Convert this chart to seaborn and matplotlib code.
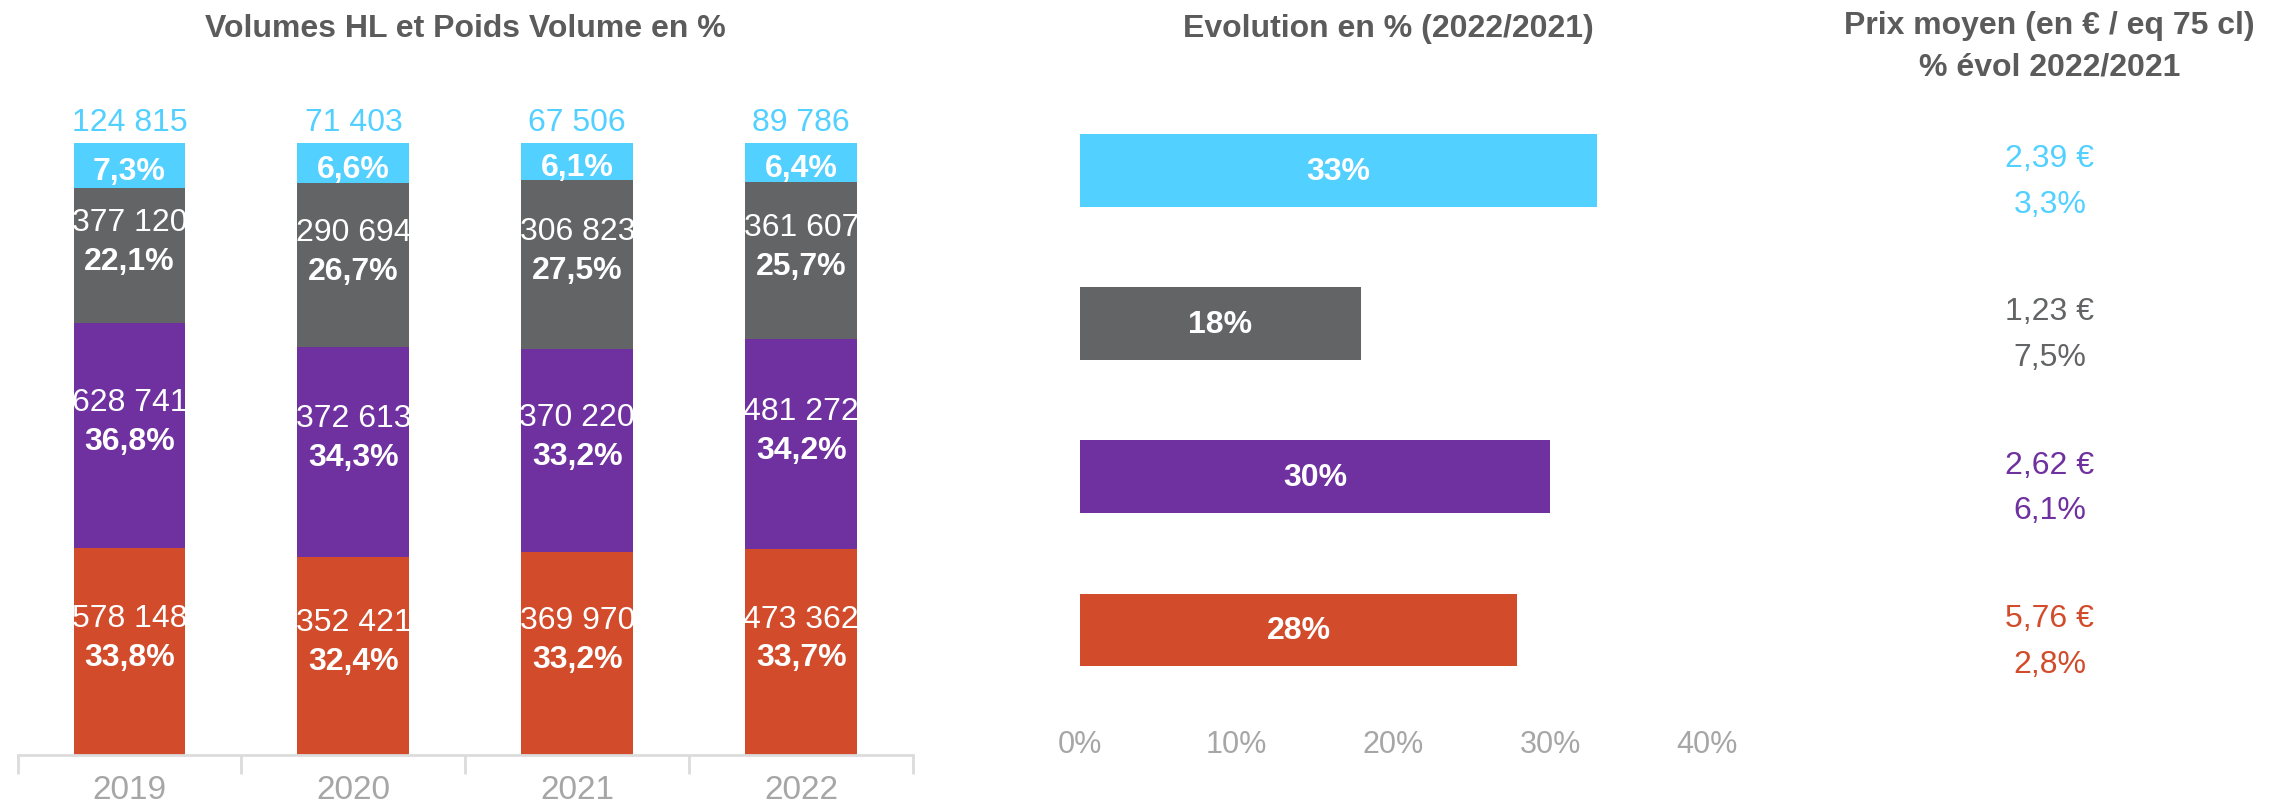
import numpy as np
import pandas as pd
import seaborn as sns
import matplotlib.pyplot as plt
import matplotlib.transforms as mtransforms

# --- data ---
years = ['2019', '2020', '2021', '2022']
seg_names = ['orange', 'violet', 'gris', 'bleu']          # bottom -> top of the stack
seg_colors = ['#D24B2A', '#6F30A0', '#636466', '#52D0FF']

vol_orange = [578148, 352421, 369970, 473362]
vol_violet = [628741, 372613, 370220, 481272]
vol_gris = [377120, 290694, 306823, 361607]
vol_bleu = [124815, 71403, 67506, 89786]

pct_orange = [33.8, 32.4, 33.2, 33.7]
pct_violet = [36.8, 34.3, 33.2, 34.2]
pct_gris = [22.1, 26.7, 27.5, 25.7]
pct_bleu = [7.3, 6.6, 6.1, 6.4]

# evolution 2022/2021 in %, top -> bottom
evol_names = ['bleu', 'gris', 'violet', 'orange']
evol_values = [33.0, 17.9, 30.0, 27.9]
prix_moyen = ['2,39 €', '1,23 €', '2,62 €', '5,76 €']
prix_evol = ['3,3%', '7,5%', '6,1%', '2,8%']

TITLE_COLOR = '#5b5b5b'
TICK_COLOR = '#a6a6a6'
FS = 23

sns.set_theme(style='white')
plt.rcParams['font.family'] = ['Liberation Sans', 'DejaVu Sans']

fig = plt.figure(figsize=(22.8, 8.12), dpi=100)
ax1 = fig.add_axes([0.0077, 0.069, 0.3928, 0.7537])
ax2 = fig.add_axes([0.4737, 0.1287, 0.275, 0.7543])

# Chart 1 : 100% stacked bars (draw cumulative totals, top segment first)
vols = [vol_orange, vol_violet, vol_gris, vol_bleu]
pcts = [pct_orange, pct_violet, pct_gris, pct_bleu]
cums = np.cumsum(np.array(pcts), axis=0)
for i in reversed(range(4)):
    sns.barplot(x=years, y=cums[i], color=seg_colors[i], saturation=1, width=0.5,
                linewidth=0, errorbar=None, ax=ax1)

for i in range(4):
    for j in range(4):
        mid = cums[i][j] - pcts[i][j] / 2
        ax1.annotate(f'{pcts[i][j]:.1f}%'.replace('.', ','), (j, mid), xytext=(0, -4),
                     textcoords='offset points', ha='center', va='center',
                     color='white', fontsize=FS, fontweight='bold')
        num = f'{vols[i][j]:,}'.replace(',', ' ')
        if i == 3:
            ax1.annotate(num, (j, cums[i][j]), xytext=(0, 15), textcoords='offset points',
                         ha='center', va='center', color=seg_colors[i], fontsize=FS)
        else:
            ax1.annotate(num, (j, mid), xytext=(0, 24), textcoords='offset points',
                         ha='center', va='center', color='white', fontsize=FS)

ax1.set_xlim(-0.5, 3.5)
ax1.set_ylim(0, 100)
ax1.set_yticks([])
ax1.set_xlabel('')
ax1.set_ylabel('')
for s in ['top', 'left', 'right']:
    ax1.spines[s].set_visible(False)
ax1.spines['bottom'].set_color('#dcdcdc')
ax1.spines['bottom'].set_linewidth(2)
ax1.set_xticks([-0.5, 0.5, 1.5, 2.5, 3.5], minor=True)
ax1.tick_params(axis='x', which='minor', bottom=True, length=14, width=2, color='#dcdcdc')
ax1.tick_params(axis='x', which='major', bottom=True, length=0, pad=14,
                labelsize=24, labelcolor=TICK_COLOR)

# Chart 2 : horizontal bars of evolution
evol_df = pd.DataFrame({'seg': evol_names, 'evol': evol_values})
palette = dict(zip(seg_names, seg_colors))
sns.barplot(data=evol_df, x='evol', y='seg', hue='seg', palette=palette, saturation=1,
            width=0.475, linewidth=0, errorbar=None, legend=False, orient='h', ax=ax2)
for i, v in enumerate(evol_values):
    ax2.text(v / 2, i, f'{round(v)}%', ha='center', va='center', color='white',
             fontsize=FS, fontweight='bold')
ax2.set_xlim(0, 40)
ax2.set_ylim(3.5, -0.5)
ax2.set_xticks([0, 10, 20, 30, 40])
ax2.set_xticklabels([f'{t}%' for t in [0, 10, 20, 30, 40]])
ax2.set_yticks([])
ax2.set_xlabel('')
ax2.set_ylabel('')
for s in ax2.spines.values():
    s.set_visible(False)
ax2.tick_params(axis='x', length=0, pad=16, labelsize=22, labelcolor=TICK_COLOR)

# Right column : average price and its evolution
trans = mtransforms.blended_transform_factory(fig.transFigure, ax2.transData)
for i, name in enumerate(evol_names):
    c = palette[name]
    fig.text(0.899, i - 0.08, prix_moyen[i], transform=trans, ha='center', va='center',
             color=c, fontsize=FS)
    fig.text(0.899, i + 0.22, prix_evol[i], transform=trans, ha='center', va='center',
             color=c, fontsize=FS)

# Titles
fig.text(0.204, 0.964, 'Volumes HL et Poids Volume en %', ha='center', va='center',
         color=TITLE_COLOR, fontsize=FS, fontweight='bold')
fig.text(0.609, 0.964, 'Evolution en % (2022/2021)', ha='center', va='center',
         color=TITLE_COLOR, fontsize=FS, fontweight='bold')
fig.text(0.899, 0.968, 'Prix moyen (en € / eq 75 cl)', ha='center', va='center',
         color=TITLE_COLOR, fontsize=FS, fontweight='bold')
fig.text(0.899, 0.917, '% évol 2022/2021', ha='center', va='center',
         color=TITLE_COLOR, fontsize=FS, fontweight='bold')

fig.savefig('out.png', dpi=100)
